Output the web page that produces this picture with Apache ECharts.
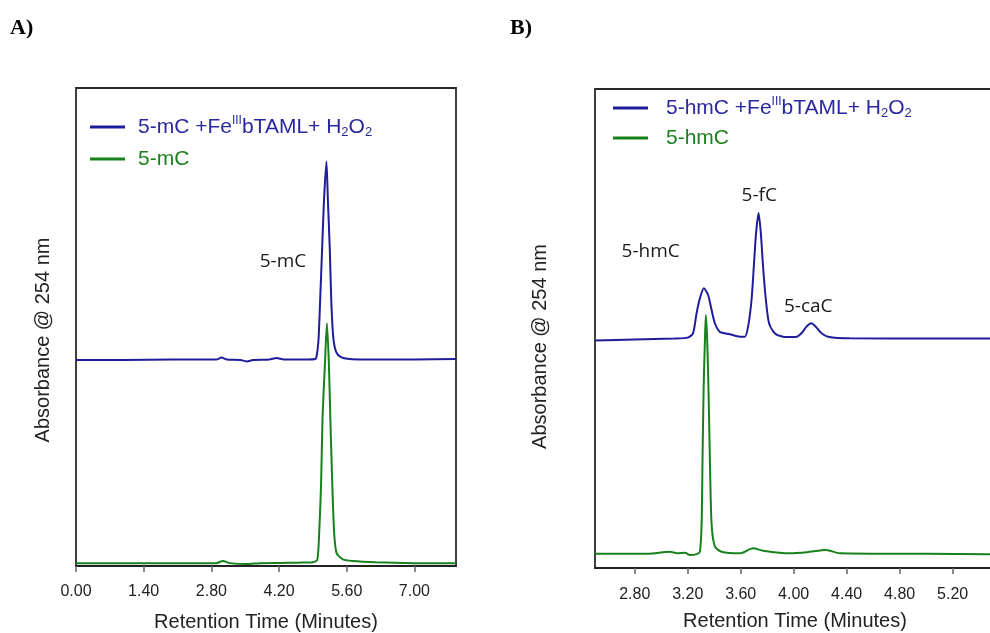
<!DOCTYPE html>
<html>
<head>
<meta charset="utf-8">
<script src="https://cdn.jsdelivr.net/npm/echarts@6/dist/echarts.min.js"></script>
<style>
  html, body { margin: 0; padding: 0; background: #ffffff; }
  #chart { width: 990px; height: 633px; }
</style>
</head>
<body>
<div id="chart"></div>
<script>
// ---- Panel A: 5-mC chromatograms (retention time in minutes, absorbance in arbitrary units) ----
const nameA1 = '5-mC +FeIIIbTAML+ H2O2';
const nameA2 = '5-mC';

const timeA1 = [0.00, 1.00, 2.00, 2.90, 3.01, 3.12, 3.40, 3.53, 3.66, 4.00, 4.15, 4.30, 4.80, 4.95,
                4.97, 5.00, 5.02, 5.05, 5.09, 5.13, 5.18, 5.21, 5.25, 5.28, 5.32, 5.38, 5.48, 5.65,
                6.00, 7.00, 7.86];
const absA1  = [43.1, 43.1, 43.2, 43.2, 43.6, 43.2, 43.1, 42.8, 43.1, 43.2, 43.5, 43.2, 43.2, 43.3,
                43.6, 45.5, 48.0, 55.6, 66.1, 76.6, 84.6, 76.6, 66.1, 55.6, 48.0, 44.8, 43.7, 43.3,
                43.2, 43.2, 43.3];

const timeA2 = [0.00, 1.00, 2.00, 2.90, 3.04, 3.18, 3.53, 3.80, 4.20, 4.60, 4.90, 4.99, 5.03, 5.07,
                5.10, 5.15, 5.19, 5.23, 5.26, 5.30, 5.34, 5.39, 5.52, 5.73, 6.20, 7.00, 7.86];
const absA2  = [0.56, 0.56, 0.60, 0.60, 1.05, 0.60, 0.40, 0.60, 0.65, 0.70, 0.80, 1.30, 6.9, 17.4,
                31.2, 42.5, 50.8, 42.5, 31.2, 17.4, 6.9, 2.7, 1.4, 1.05, 0.80, 0.60, 0.55];

const ticksA = [0.00, 1.40, 2.80, 4.20, 5.60, 7.00];
const peaksA = ['5-mC'];

// ---- Panel B: 5-hmC chromatograms ----
const nameB1 = '5-hmC +FeIIIbTAML+ H2O2';
const nameB2 = '5-hmC';

const timeB1 = [2.50, 2.80, 3.10, 3.20, 3.24, 3.267, 3.292, 3.322, 3.354, 3.380, 3.405, 3.443, 3.518,
                3.594, 3.631, 3.656, 3.682, 3.699, 3.716, 3.735, 3.752, 3.769, 3.790, 3.814, 3.857,
                3.920, 4.016, 4.059, 4.097, 4.134, 4.172, 4.210, 4.259, 4.42, 5.00, 5.52];
const absB1  = [47.5, 47.7, 47.9, 48.1, 49.0, 53.2, 56.3, 58.4, 57.0, 53.9, 51.1, 49.3, 48.8,
                48.3, 48.3, 50.4, 56.0, 62.9, 69.9, 74.1, 69.9, 62.9, 56.0, 51.1, 49.0,
                48.3, 48.2, 49.0, 50.4, 51.1, 50.2, 49.0, 48.3, 47.95, 47.9, 47.9];

const timeB2 = [2.50, 2.90, 3.066, 3.12, 3.18, 3.216, 3.27, 3.292, 3.305, 3.312, 3.320, 3.330, 3.337,
                3.347, 3.357, 3.367, 3.380, 3.405, 3.456, 3.594, 3.694, 3.769, 3.971, 4.10, 4.247,
                4.348, 5.00, 5.52];
const absB2  = [3.0, 3.0, 3.4, 3.1, 3.2, 2.7, 2.9, 3.4, 9.3, 23.2, 37.2, 47.6, 52.8,
                47.6, 37.2, 23.2, 9.3, 4.5, 3.4, 3.07, 4.11, 3.61, 3.07, 3.3, 3.76,
                3.07, 2.95, 2.85];

const ticksB = [2.80, 3.20, 3.60, 4.00, 4.40, 4.80, 5.20];
const peaksB = ['5-hmC', '5-fC', '5-caC'];

// ---- styling ----
const BLUE = '#1f1d9b';
const GREEN = '#17821b';
const BLUE_TEXT = '#2a289e';
const GREEN_TEXT = '#1d801f';
const SANS = '"Liberation Sans", Arial, sans-serif';
const LABEL_FONT = '"Open Sans", "Noto Sans", sans-serif';

const zip = (xs, ys) => xs.map((x, i) => [x, ys[i]]);

// Legend names carry Fe(III) as a superscript and H2O2 subscripts
function legendText(name) {
  return name
    .replace('FeIII', 'Fe{sup|III}')
    .replace('H2O2', 'H{sub|2}O{sub|2}');
}

const legendRich = {
  sup: { fontSize: 12, lineHeight: 12, verticalAlign: 'top', fontFamily: SANS },
  sub: { fontSize: 13, lineHeight: 12, verticalAlign: 'bottom', fontFamily: SANS }
};

function makeLegend(names, left, top, gap, textGap) {
  return {
    orient: 'vertical',
    left: left,
    top: top,
    padding: 0,
    itemGap: gap,
    itemWidth: 35,
    itemHeight: 3,
    icon: 'rect',
    selectedMode: false,
    formatter: legendText,
    textStyle: {
      fontSize: 21,
      fontFamily: SANS,
      lineHeight: 24,
      padding: [0, 0, 0, textGap],
      rich: legendRich
    },
    data: [
      { name: names[0], textStyle: { color: BLUE_TEXT } },
      { name: names[1], textStyle: { color: GREEN_TEXT } }
    ]
  };
}

function xAxisFor(gridIndex, min, max, ticks, margin, nameGap) {
  return {
    type: 'value',
    gridIndex: gridIndex,
    min: min,
    max: max,
    name: 'Retention Time (Minutes)',
    nameLocation: 'middle',
    nameGap: nameGap,
    nameTextStyle: { fontSize: 20, fontFamily: SANS, color: '#222' },
    axisLine: { show: true, onZero: false, lineStyle: { color: '#222', width: 2 } },
    axisTick: { show: true, inside: false, length: 6, customValues: ticks,
                lineStyle: { color: '#666', width: 1.5 } },
    axisLabel: { show: true, margin: margin, customValues: ticks,
                 formatter: v => v.toFixed(2),
                 fontSize: 16, fontFamily: SANS, color: '#222' },
    splitLine: { show: false }
  };
}

function yAxisFor(gridIndex, nameGap, shift) {
  return {
    type: 'value',
    gridIndex: gridIndex,
    min: 0,
    max: 100,
    name: 'Absorbance @ 254 nm',
    nameLocation: 'middle',
    nameRotate: 90,
    nameGap: nameGap,
    nameTextStyle: { fontSize: 20, fontFamily: SANS, color: '#222', padding: [0, shift, 0, 0] },
    axisLine: { show: false },
    axisTick: { show: false },
    axisLabel: { show: false },
    splitLine: { show: false }
  };
}

function trace(name, data, color, axisIndex, z) {
  return {
    type: 'line',
    name: name,
    xAxisIndex: axisIndex,
    yAxisIndex: axisIndex,
    data: data,
    showSymbol: false,
    smooth: 0.25,
    z: z,
    color: color,
    lineStyle: { color: color, width: 2 },
    silent: true,
    animation: false
  };
}

function peakLabels(texts, coords) {
  return {
    symbol: 'circle',
    symbolSize: 0,
    silent: true,
    label: {
      show: true,
      position: 'inside',
      formatter: p => p.name,
      fontSize: 19,
      fontFamily: LABEL_FONT,
      color: '#1a1a1a'
    },
    data: texts.map((t, i) => ({ name: t, coord: coords[i] }))
  };
}

const seriesA1 = trace(nameA1, zip(timeA1, absA1), BLUE, 0, 3);
seriesA1.markPoint = peakLabels(peaksA, [[4.28, 63.6]]);
const seriesA2 = trace(nameA2, zip(timeA2, absA2), GREEN, 0, 2);

const seriesB1 = trace(nameB1, zip(timeB1, absB1), BLUE, 1, 3);
seriesB1.markPoint = peakLabels(peaksB, [[2.92, 66.0], [3.74, 77.8], [4.11, 54.6]]);
const seriesB2 = trace(nameB2, zip(timeB2, absB2), GREEN, 1, 2);

const option = {
  backgroundColor: '#ffffff',
  animation: false,
  grid: [
    { left: 76, top: 88, width: 380, height: 478, show: true, outerBoundsMode: 'none',
      containLabel: false,
      borderColor: '#2a2a2a', borderWidth: 1.8, backgroundColor: 'transparent' },
    { left: 595, top: 89, width: 400, height: 479, show: true, outerBoundsMode: 'none',
      containLabel: false,
      borderColor: '#2a2a2a', borderWidth: 1.8, backgroundColor: 'transparent' }
  ],
  legend: [
    makeLegend([nameA1, nameA2], 90, 115, 8, 8),
    makeLegend([nameB1, nameB2], 613, 96, 6, 13)
  ],
  xAxis: [
    xAxisFor(0, 0, 7.86, ticksA, 18, 46),
    xAxisFor(1, 2.5, 5.52, ticksB, 19, 43)
  ],
  yAxis: [
    yAxisFor(0, 23, 26),
    yAxisFor(1, 45, 36)
  ],
  series: [seriesA2, seriesA1, seriesB2, seriesB1],
  graphic: [
    { type: 'text', left: 10, top: 17,
      style: { text: 'A)', font: 'bold 22px "Liberation Serif", "Times New Roman", serif', fill: '#000' } },
    { type: 'text', left: 510, top: 17,
      style: { text: 'B)', font: 'bold 22px "Liberation Serif", "Times New Roman", serif', fill: '#000' } }
  ]
};

const chart = echarts.init(document.getElementById('chart'), null, { renderer: 'canvas' });
chart.setOption(option);
</script>
</body>
</html>
